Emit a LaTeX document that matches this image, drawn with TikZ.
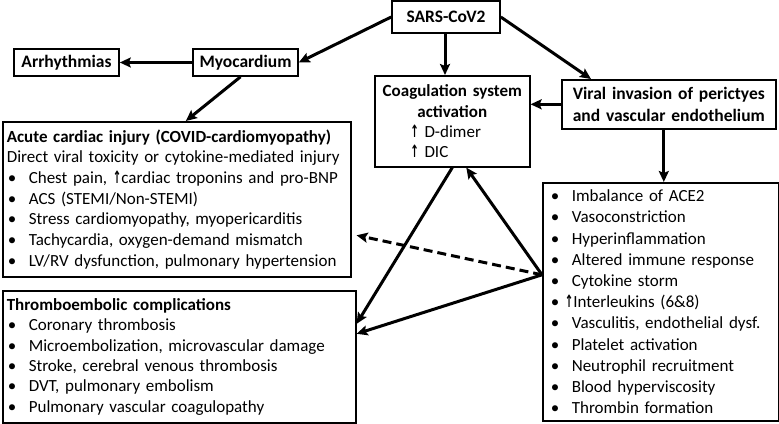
\documentclass[tikz,border=0pt]{standalone}
\usepackage{fontspec}
\setmainfont{Carlito}
\newfontfamily\arrowfont{DejaVu Sans}
\usetikzlibrary{arrows.meta}
\newcommand{\up}{\scalebox{0.6}[1]{\arrowfont\bfseries ↑}}
\newcommand{\itm}{\makebox[22pt][l]{\hspace{1pt}•}}
\begin{document}
\begin{tikzpicture}[x=1pt,y=-1pt,
    box/.style={draw,line width=1.6pt,inner xsep=4pt,inner ysep=2pt,
      font=\fontsize{17}{20.7}\selectfont},
    title/.style={box,font=\fontsize{17.5}{21}\selectfont\bfseries,align=center},
    arr/.style={line width=3pt,-{Stealth[length=11pt,width=10pt,inset=2pt]}}]
  \useasboundingbox (0,0) rectangle (779,423);
  % Boxes
  \node[title,minimum width=108pt,minimum height=32pt] (sars) at (446,17) {SARS-CoV2};
  \node[title,minimum width=105pt,minimum height=27pt] (myo) at (245.5,62.5) {Myocardium};
  \node[title,minimum width=105pt,minimum height=27pt] (arrh) at (66.5,62.5) {Arrhythmias};
  \node[box,anchor=north west,text width=147pt,minimum height=91pt,align=center,
    font=\fontsize{17}{20.3}\selectfont] (coag) at (374,75)
    {\textbf{Coagulation system}\\\textbf{activation}\\
     \makebox[84pt][l]{\up\ D-dimer}\\\makebox[84pt][l]{\up\ DIC}};
  \node[title,anchor=north west,text width=206pt,minimum height=49pt,
    font=\fontsize{17.5}{22}\selectfont\bfseries] (viral) at (561,79)
    {Viral invasion of perictyes\\and vascular endothelium};
  \node[box,anchor=north west,text width=340pt,minimum height=155pt,align=left] (acute) at (2,121)
    {\textbf{Acute cardiac injury (COVID-cardiomyopathy)}\\
     Direct viral toxicity or cytokine-mediated injury\\
     \itm Chest pain, \up cardiac troponins and pro-BNP\\
     \itm ACS (STEMI/Non-STEMI)\\
     \itm Stress cardiomyopathy, myopericarditis\\
     \itm Tachycardia, oxygen-demand mismatch\\
     \itm LV/RV dysfunction, pulmonary hypertension};
  \node[box,anchor=north west,text width=345pt,minimum height=132pt,align=left,
    font=\fontsize{17}{20.3}\selectfont] (thrombo) at (2,290)
    {\textbf{Thromboembolic complications}\\
     \itm Coronary thrombosis\\
     \itm Microembolization, microvascular damage\\
     \itm Stroke, cerebral venous thrombosis\\
     \itm DVT, pulmonary embolism\\
     \itm Pulmonary vascular coagulopathy};
  \node[box,anchor=north west,inner xsep=7pt,text width=222pt,minimum height=238pt,align=left,
    font=\fontsize{17}{21.2}\selectfont] (mech) at (542,182)
    {\itm Imbalance of ACE2\\
     \itm Vasoconstriction\\
     \itm Hyperinflammation\\
     \itm Altered immune response\\
     \itm Cytokine storm\\
     \itm\kern-7pt\up Interleukins (6\&8)\\
     \itm Vasculitis, endothelial dysf.\\
     \itm Platelet activation\\
     \itm Neutrophil recruitment\\
     \itm Blood hyperviscosity\\
     \itm Thrombin formation};
  % Arrows
  \coordinate (src) at ([yshift=27pt]mech.west);
  \draw[arr] (sars.west) -- (myo.east);
  \draw[arr] ([xshift=-1pt]sars.south) -- ([xshift=-1pt]sars.south |- coag.north);
  \draw[arr] (sars.east) -- ([xshift=30pt]viral.north west);
  \draw[arr] (viral.west) -- (viral.west -| coag.east);
  \draw[arr] ([xshift=-5pt]viral.south) -- ([xshift=-5pt]viral.south |- mech.north);
  \draw[arr] (myo.west) -- (arrh.east);
  \draw[arr] ([xshift=-5pt]myo.south) -- ([xshift=9pt]acute.north);
  \draw[arr] (coag.south) -- ([yshift=33pt]thrombo.east);
  \draw[arr] (src) -- ([xshift=14pt]coag.south);
  \draw[arr,dashed,dash pattern=on 9pt off 5pt] (src) -- ([xshift=5pt,yshift=-36pt]acute.east);
  \draw[arr] (src) -- ([yshift=23pt]thrombo.east);
\end{tikzpicture}
\end{document}
